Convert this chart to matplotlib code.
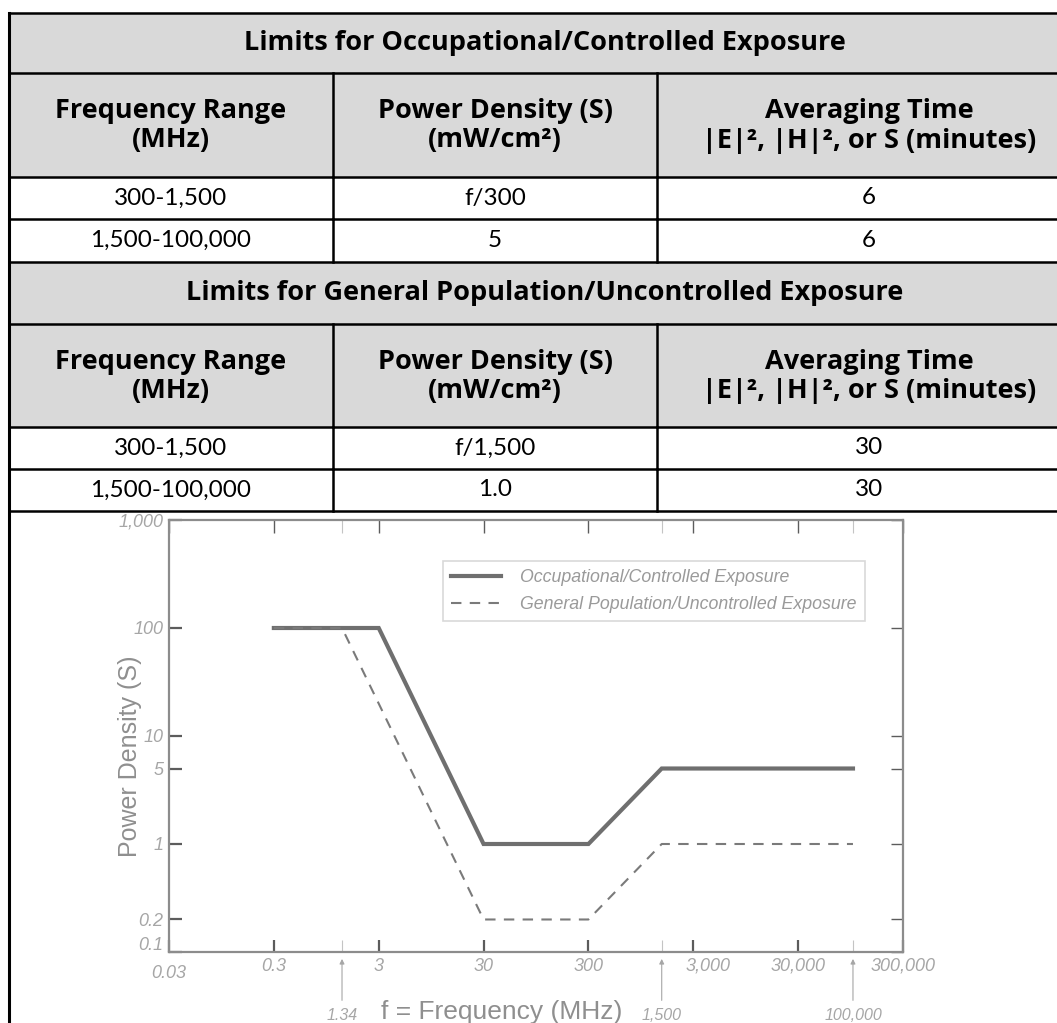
import matplotlib.pyplot as plt
from matplotlib.patches import Rectangle
from matplotlib.ticker import NullLocator
import matplotlib.transforms as mtransforms

#
# Table contents
#
occ_title = "Limits for Occupational/Controlled Exposure"
gen_title = "Limits for General Population/Uncontrolled Exposure"
col_headers = ["Frequency Range\n(MHz)",
               "Power Density (S)\n(mW/cm²)",
               "Averaging Time\n|E|², |H|², or S (minutes)"]
occ_rows = [["300-1,500", "f/300", "6"],
            ["1,500-100,000", "5", "6"]]
gen_rows = [["300-1,500", "f/1,500", "30"],
            ["1,500-100,000", "1.0", "30"]]

#
# Chart data
#
occ_freq = [0.3, 3, 30, 300, 1500, 100000]
occ_power = [100, 100, 1, 1, 5, 5]
gen_freq = [0.3, 1.34, 30, 300, 1500, 100000]
gen_power = [100, 100, 0.2, 0.2, 1, 1]
occ_label = "Occupational/Controlled Exposure"
gen_label = "General Population/Uncontrolled Exposure"

x_ticks = [0.03, 0.3, 3, 30, 300, 3000, 30000, 300000]
x_tick_labels = ["0.03", "0.3", "3", "30", "300", "3,000", "30,000", "300,000"]
y_ticks = [0.1, 0.2, 1, 5, 10, 100, 1000]
y_tick_labels = ["0.1", "0.2", "1", "5", "10", "100", "1,000"]
marked_freq = [1.34, 1500, 100000]
marked_labels = ["1.34", "1,500", "100,000"]

W, H = 1057, 1023
fig = plt.figure(figsize=(W / 100, H / 100), dpi=100)

# Table drawn on a pixel-coordinate axes
tab = fig.add_axes([0, 0, 1, 1])
tab.set_xlim(0, W)
tab.set_ylim(H, 0)
tab.axis("off")

grey = "#d9d9d9"
tab_left, tab_right = 9, 1081
col_edges = [tab_left, 333, 657, tab_right]
row_edges = [12.7, 73, 177, 219, 262, 324, 427, 469, 511]
row_kinds = ["title", "head", "data", "data", "title", "head", "data", "data"]
titles = [occ_title, gen_title]
data_rows = occ_rows + gen_rows

bold_font = dict(family="Open Sans", weight="bold", size=19.5)
reg_font = dict(family="Lato", size=17.5)

t_i = 0
d_i = 0
for r, kind in enumerate(row_kinds):
    y0, y1 = row_edges[r], row_edges[r + 1]
    yc = (y0 + y1) / 2
    if kind in ("title", "head"):
        tab.add_patch(Rectangle((tab_left, y0), tab_right - tab_left, y1 - y0,
                                facecolor=grey, edgecolor="none", zorder=1))
    if kind == "title":
        tab.text((tab_left + tab_right) / 2, yc, titles[t_i], ha="center", va="center",
                 zorder=3, **bold_font)
        t_i += 1
    else:
        for c in range(3):
            xc = (col_edges[c] + col_edges[c + 1]) / 2
            if kind == "head":
                tab.text(xc, yc + 1, col_headers[c], ha="center", va="center",
                         linespacing=1.15, zorder=3, **bold_font)
            else:
                tab.text(xc, yc, data_rows[d_i][c], ha="center", va="center",
                         zorder=3, **reg_font)
        if kind == "data":
            d_i += 1
        # column separators
        for xe in col_edges[1:3]:
            tab.plot([xe, xe], [y0, y1], color="black", lw=1.8, zorder=4)

for ye in row_edges:
    tab.plot([tab_left, W + 5], [ye, ye], color="black", lw=1.8, zorder=4)
tab.plot([tab_left, tab_left], [row_edges[0], H + 5], color="black", lw=2.2, zorder=4)

#
# Chart
#
ax_l, ax_r, ax_t, ax_b = 169, 903, 520, 952
ax = fig.add_axes([ax_l / W, 1 - ax_b / H, (ax_r - ax_l) / W, (ax_b - ax_t) / H])
ax.patch.set_alpha(0)

line_col = "#6f6f6f"
ax.plot(occ_freq, occ_power, color=line_col, lw=3, solid_joinstyle="miter",
        label=occ_label, zorder=3)
ax.plot(gen_freq, gen_power, color="#7a7a7a", lw=1.5, linestyle=(0, (5, 4)),
        label=gen_label, zorder=3)

ax.set_xscale("log")
ax.set_yscale("log")
ax.set_xlim(0.03, 300000)
ax.set_ylim(0.1, 1000)

tick_font = dict(family="Liberation Sans", style="italic", size=13, color="#a6a6a6")
ax.set_xticks(x_ticks)
ax.set_xticklabels(x_tick_labels, **tick_font)
ax.set_xticks(marked_freq, minor=True)
ax.set_xticklabels(["" for _ in marked_freq], minor=True)
ax.set_yticks(y_ticks)
ax.set_yticklabels(y_tick_labels, **tick_font)
ax.yaxis.set_minor_locator(NullLocator())

ax.tick_params(which="major", direction="in", top=True, right=True,
               length=9, width=1.6, color="#5c5c5c", pad=4)
ax.tick_params(which="minor", direction="in", top=True, right=False,
               length=9, width=0.8, color="#c4c4c4")
for t in ax.yaxis.get_major_ticks():
    t.tick2line.set_color("#bdbdbd")
    t.tick2line.set_markeredgewidth(1.0)
for t in ax.xaxis.get_major_ticks():
    t.tick2line.set_color("#bdbdbd")
    t.tick2line.set_markeredgewidth(1.0)

# small nudges of some tick labels
xlabs = ax.get_xticklabels()
xlabs[0].set_transform(xlabs[0].get_transform()
                       + mtransforms.ScaledTranslation(0, -0.07, fig.dpi_scale_trans))
xlabs[5].set_transform(xlabs[5].get_transform()
                       + mtransforms.ScaledTranslation(0.15, 0, fig.dpi_scale_trans))
ylabs = ax.get_yticklabels()
ylabs[0].set_transform(ylabs[0].get_transform()
                       + mtransforms.ScaledTranslation(0, 0.08, fig.dpi_scale_trans))

for s in ax.spines.values():
    s.set_color("#8c8c8c")
    s.set_linewidth(1.6)

ax.set_xlabel("f = Frequency (MHz)", family="Liberation Sans", size=19, color="#8f8f8f")
ax.xaxis.set_label_coords(0.453, -0.139)
ax.xaxis.label.set_va("center")
ax.set_ylabel("Power Density (S)", family="Liberation Sans", size=18, color="#8f8f8f")
ax.yaxis.set_label_coords(-0.053, 0.454)
ax.yaxis.label.set_va("center")

# arrows marking the breakpoints
for f, lab in zip(marked_freq, marked_labels):
    ax.annotate("", xy=(f, -0.016), xycoords=("data", "axes fraction"),
                xytext=(f, -0.112), textcoords=("data", "axes fraction"),
                arrowprops=dict(arrowstyle="-|>", color="#a6a6a6", lw=0.8,
                                mutation_scale=7, shrinkA=0, shrinkB=0))
    ax.text(f, -0.146, lab, transform=ax.get_xaxis_transform(), ha="center", va="center",
            family="Liberation Sans", style="italic", size=11.5, color="#a6a6a6")

leg = ax.legend(loc="upper right", bbox_to_anchor=(0.948, 0.905), borderaxespad=0,
                handlelength=2.8, handletextpad=1.1, frameon=True, fancybox=False,
                prop=dict(family="Liberation Sans", style="italic", size=12.8),
                labelcolor="#9a9a9a", borderpad=0.45, labelspacing=0.58)
leg.get_frame().set_edgecolor("#cfcfcf")
leg.get_frame().set_linewidth(1.2)

fig.savefig("out.png", dpi=100)
